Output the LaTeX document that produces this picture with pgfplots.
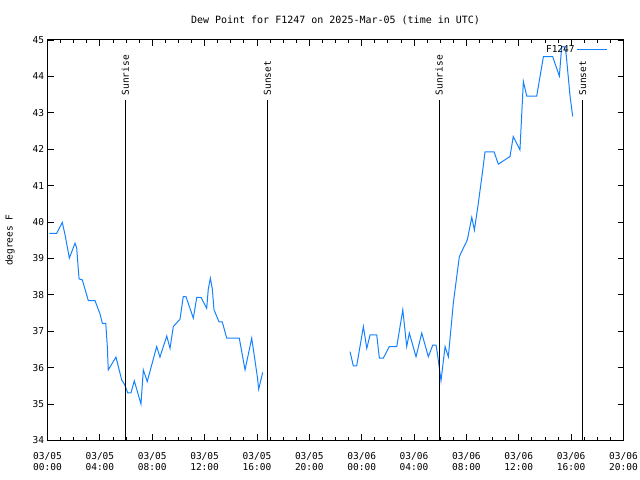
\documentclass[border=0pt]{standalone}
\usepackage{pgfplots}
\pgfplotsset{compat=1.18}
\usepackage{fontspec}
\setmainfont{DejaVu Sans Mono}
\definecolor{dpblue}{RGB}{20,130,255}
\begin{document}
\begin{tikzpicture}[font=\fontsize{9.5bp}{11bp}\selectfont]
\useasboundingbox (-47.5bp,-39.5bp) rectangle (592.5bp,440.5bp);
\begin{axis}[
  at={(0,0)}, anchor=south west,
  scale only axis, width=576bp, height=400.5bp,
  xmin=0, xmax=44, ymin=34, ymax=45,
  xtick={0,4,...,44},
  xticklabels={{03/05\\00:00},{03/05\\04:00},{03/05\\08:00},{03/05\\12:00},{03/05\\16:00},{03/05\\20:00},{03/06\\00:00},{03/06\\04:00},{03/06\\08:00},{03/06\\12:00},{03/06\\16:00},{03/06\\20:00}},
  xticklabel style={align=center, font=\fontsize{9.5bp}{11.5bp}\selectfont, yshift=-8bp},
  minor x tick num=3,
  ytick={34,35,...,45},
  /pgf/number format/assume math mode=true,
  yticklabel style={font=\fontsize{9.5bp}{11bp}\selectfont},
  major tick length=6bp, minor tick length=3bp,
  tick style={black, line width=0.8bp},
  axis line style={line width=1bp},
  title={Dew Point for F1247 on 2025-Mar-05 (time in UTC)},
  title style={font=\fontsize{10bp}{12bp}\selectfont, yshift=6bp},
  ylabel={degrees F},
  ylabel style={font=\fontsize{9.5bp}{11bp}\selectfont, yshift=11bp},
  legend style={draw=none, fill=none, at={(rel axis cs:0.978,0.997)}, anchor=north east, font=\fontsize{9.5bp}{11bp}\selectfont},
  legend image code/.code={\draw[#1] (0bp,0bp) -- (30bp,0bp);},
  legend plot pos=right,
  legend cell align=right,
  unbounded coords=jump,
]
\addplot[dpblue, line width=1bp] coordinates {
(0.14,39.69) (0.70,39.69) (1.13,39.99) (1.34,39.65) (1.67,39.01) (2.10,39.42) (2.23,39.29)
(2.41,38.44) (2.66,38.41) (3.12,37.84) (3.63,37.84) (4.01,37.48) (4.19,37.22) (4.45,37.22)
(4.57,36.58) (4.64,35.94) (5.23,36.29) (5.67,35.66) (5.87,35.55) (6.13,35.31) (6.38,35.31)
(6.63,35.64) (7.14,35.00) (7.32,35.94) (7.62,35.62) (8.34,36.58) (8.59,36.29) (9.11,36.87)
(9.36,36.53) (9.61,37.13) (10.12,37.33) (10.37,37.95) (10.58,37.95) (11.14,37.36) (11.40,37.93)
(11.73,37.93) (12.16,37.63) (12.28,38.15) (12.44,38.46) (12.59,38.16) (12.72,37.59) (13.10,37.26)
(13.35,37.26) (13.69,36.81) (14.65,36.81) (15.09,35.94) (15.60,36.81) (16.03,35.75) (16.13,35.41)
(16.44,35.87)
(20,nan)
(23.11,36.44) (23.36,36.05) (23.62,36.05) (24.13,37.13) (24.39,36.53) (24.64,36.90) (25.15,36.90)
(25.35,36.26) (25.65,36.26) (26.11,36.58) (26.68,36.58) (26.93,37.13) (27.14,37.59) (27.44,36.58)
(27.64,36.95) (28.15,36.30) (28.59,36.95) (29.09,36.30) (29.43,36.62) (29.68,36.62) (29.78,36.40)
(30.06,35.64) (30.37,36.58) (30.62,36.30) (30.80,36.99) (31.00,37.77) (31.26,38.50) (31.46,39.05)
(31.76,39.28) (32.07,39.51) (32.41,40.13) (32.61,39.78) (32.91,40.52) (33.25,41.43) (33.42,41.93)
(34.11,41.93) (34.44,41.59) (35.33,41.80) (35.58,42.35) (36.09,41.98) (36.35,43.86) (36.61,43.46)
(37.37,43.46) (37.88,44.54) (38.59,44.54) (39.10,44.01) (39.28,44.82) (39.46,44.82) (39.61,44.64)
(39.92,43.45) (40.12,42.90)
};
\addlegendentry{F1247}
\addplot[black, line width=1bp, forget plot] coordinates {(5.95,34) (5.95,43.35)};
\addplot[black, line width=1bp, forget plot] coordinates {(16.80,34) (16.80,43.35)};
\addplot[black, line width=1bp, forget plot] coordinates {(29.92,34) (29.92,43.35)};
\addplot[black, line width=1bp, forget plot] coordinates {(40.88,34) (40.88,43.35)};
\node[rotate=90, anchor=west, inner sep=1bp] at (axis cs:5.95,43.45) {Sunrise};
\node[rotate=90, anchor=west, inner sep=1bp] at (axis cs:16.80,43.45) {Sunset};
\node[rotate=90, anchor=west, inner sep=1bp] at (axis cs:29.92,43.45) {Sunrise};
\node[rotate=90, anchor=west, inner sep=1bp] at (axis cs:40.88,43.45) {Sunset};
\end{axis}
\end{tikzpicture}
\end{document}
